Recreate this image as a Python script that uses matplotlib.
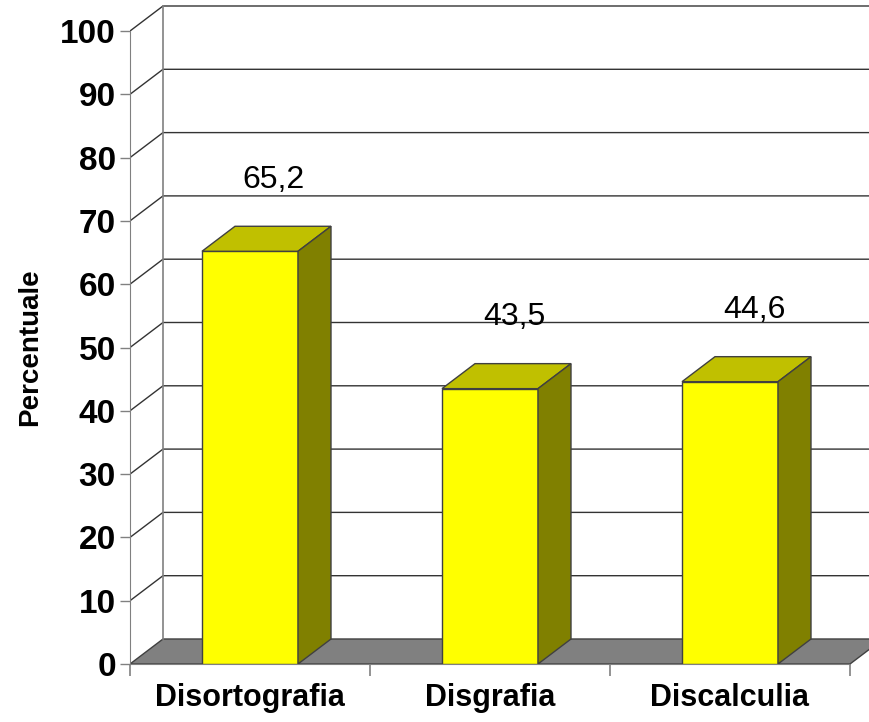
import matplotlib
matplotlib.use('Agg')
import matplotlib.pyplot as plt
from matplotlib.patches import Polygon

plt.rcParams['font.family'] = ['Liberation Sans', 'DejaVu Sans']

categories = ['Disortografia', 'Disgrafia', 'Discalculia']
values = [65.2, 43.5, 44.6]
yticks = list(range(0, 101, 10))

# fake 3d depth (data units)
ddx = 0.1375
ddy = 3.95
bar_w = 0.4
edge = '#404040'
axcol = '#808080'

fig = plt.figure(figsize=(8.7, 7.22), dpi=100)
ax = fig.add_axes([130/870, 58/722, 740/870, 664/722])
xmax = 740/240
ax.set_xlim(0, xmax)
ax.set_ylim(0, 664/6.33)

# floor
n = len(categories)
floor = Polygon([(0, 0), (n, 0), (n+ddx, ddy), (ddx, ddy)],
                facecolor='#808080', edgecolor=edge, lw=1, zorder=1)
ax.add_patch(floor)

# back wall gridlines + side wall diagonals
for v in yticks[1:]:
    ax.plot([0, ddx, xmax], [v, v+ddy, v+ddy], color='#333333', lw=1, zorder=1.5)
ax.plot([ddx, ddx], [ddy, 100+ddy], color=axcol, lw=1.2, zorder=1.5)

# bars
centers = [i + 0.5 for i in range(n)]
ax.bar(centers, values, width=bar_w, color='#FFFF00', edgecolor=edge, lw=1, zorder=3)
for c, v in zip(centers, values):
    x0 = c - bar_w/2
    x1 = c + bar_w/2
    top = Polygon([(x0, v), (x1, v), (x1+ddx, v+ddy), (x0+ddx, v+ddy)],
                  facecolor='#C0C000', edgecolor=edge, lw=1, zorder=3)
    side = Polygon([(x1, 0), (x1+ddx, ddy), (x1+ddx, v+ddy), (x1, v)],
                   facecolor='#808000', edgecolor=edge, lw=1, zorder=3)
    ax.add_patch(top)
    ax.add_patch(side)
    ax.text(c + 0.1, v + 11.3, f"{v:.1f}".replace('.', ','),
            ha='center', va='center', fontsize=23, zorder=4)

# axes
for s in ['top', 'right']:
    ax.spines[s].set_visible(False)
ax.spines['left'].set_bounds(0, 100)
ax.spines['left'].set_color(axcol)
ax.spines['bottom'].set_bounds(0, n)
ax.spines['bottom'].set_color(axcol)

ax.set_yticks(yticks)
ax.set_yticklabels([str(t) for t in yticks], fontweight='bold', fontsize=24)
ax.tick_params(axis='y', length=7.2, width=1, color=axcol, pad=3)

ax.set_xticks(range(n+1))
ax.set_xticklabels([''] * (n+1))
ax.set_xticks(centers, minor=True)
ax.set_xticklabels(categories, minor=True, fontweight='bold', fontsize=22)
ax.tick_params(axis='x', which='major', length=8.5, width=1.2, color=axcol)
ax.tick_params(axis='x', which='minor', length=0, pad=14)

ax.text(-0.135, 50/ax.get_ylim()[1], 'Percentuale', transform=ax.transAxes,
        rotation=90, ha='center', va='center', fontsize=20, fontweight='bold')

fig.savefig('out.png', dpi=100)
